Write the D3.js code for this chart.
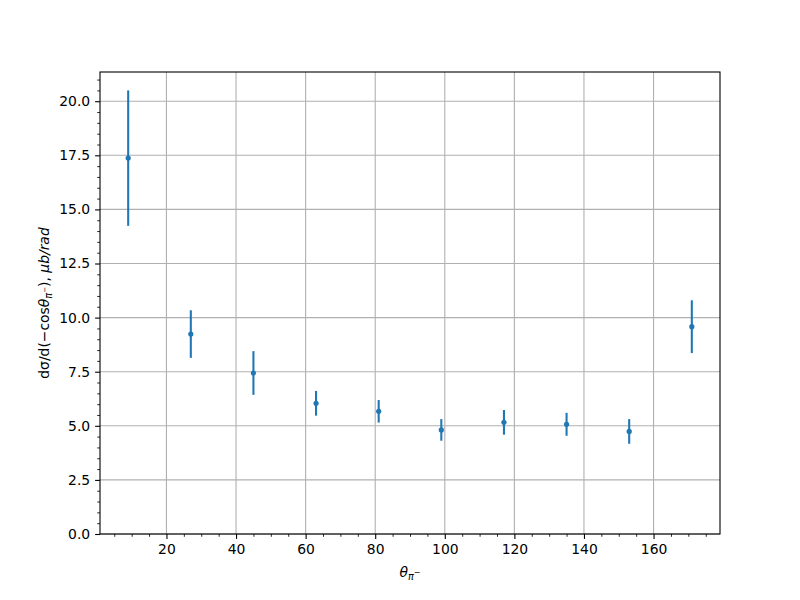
<!DOCTYPE html>
<html><head><meta charset="utf-8">
<script src="https://cdn.jsdelivr.net/npm/d3@7"></script>
<style>body{margin:0;background:#fff}svg text{font-family:"DejaVu Sans",sans-serif}</style>
</head><body><svg id="c" width="800" height="600"></svg>
<script>
const angles = [9, 27, 45, 63, 81, 99, 117, 135, 153, 171];
const values = [17.37, 9.24, 7.44, 6.04, 5.67, 4.81, 5.16, 5.07, 4.74, 9.58];
const errors = [3.13, 1.10, 1.01, 0.57, 0.52, 0.50, 0.57, 0.53, 0.57, 1.22];
const xTicks = [20, 40, 60, 80, 100, 120, 140, 160];
const yTicks = [0, 2.5, 5, 7.5, 10, 12.5, 15, 17.5, 20];

const L = 100, R = 720, T = 72, B = 534;
const svg = d3.select("#c");
const x = d3.scaleLinear().domain([0.9, 179.1]).range([L, R]);
const y = d3.scaleLinear().domain([0, 21.35]).range([B, T]);
const color = "#1f77b4";
const fs = "13.9px";

// grid
const g = svg.append("g");
g.selectAll(".gx").data(xTicks).enter().append("line")
  .attr("x1", d => x(d)).attr("x2", d => x(d)).attr("y1", T).attr("y2", B)
  .attr("stroke", "#b0b0b0").attr("stroke-width", 1.1);
g.selectAll(".gy").data(yTicks).enter().append("line")
  .attr("x1", L).attr("x2", R).attr("y1", d => y(d)).attr("y2", d => y(d))
  .attr("stroke", "#b0b0b0").attr("stroke-width", 1.1);

// error bars and points
svg.append("g").selectAll("line").data(angles).enter().append("line")
  .attr("x1", (d) => x(d)).attr("x2", (d) => x(d))
  .attr("y1", (d, i) => y(values[i] - errors[i])).attr("y2", (d, i) => y(values[i] + errors[i]))
  .attr("stroke", color).attr("stroke-width", 2.08);
svg.append("g").selectAll("circle").data(angles).enter().append("circle")
  .attr("cx", d => x(d)).attr("cy", (d, i) => y(values[i])).attr("r", 2.6)
  .attr("fill", color);

// axes
const xMinor = d3.range(5, 180, 5).filter(v => v % 20 !== 0 && v >= 0.9 && v <= 179.1);
const yMinor = d3.range(0, 21.35, 0.5).filter(v => Math.abs(v / 2.5 - Math.round(v / 2.5)) > 1e-6);

const xAxis = d3.axisBottom(x).tickValues(xTicks).tickFormat(d3.format("d")).tickSize(4.9).tickPadding(4.9);
const xAxisMinor = d3.axisBottom(x).tickValues(xMinor).tickFormat("").tickSize(2.8);
const yAxis = d3.axisLeft(y).tickValues(yTicks).tickFormat(d3.format(".1f")).tickSize(4.9).tickPadding(4.9);
const yAxisMinor = d3.axisLeft(y).tickValues(yMinor).tickFormat("").tickSize(2.8);

function style(sel, w) {
  sel.select(".domain").remove();
  sel.selectAll("line").attr("stroke", "#000").attr("stroke-width", w);
  sel.selectAll("text").attr("font-size", fs).attr("fill", "#000").attr("font-family", "DejaVu Sans");
}
svg.append("g").attr("transform", `translate(0,${B})`).call(xAxis).call(s => style(s, 1.1));
svg.append("g").attr("transform", `translate(0,${B})`).call(xAxisMinor).call(s => style(s, 0.83));
svg.append("g").attr("transform", `translate(${L},0)`).call(yAxis).call(s => style(s, 1.1));
svg.append("g").attr("transform", `translate(${L},0)`).call(yAxisMinor).call(s => style(s, 0.83));

// frame
svg.append("rect").attr("x", L).attr("y", T).attr("width", R - L).attr("height", B - T)
  .attr("fill", "none").attr("stroke", "#000").attr("stroke-width", 1.1);

// x label
const xl = svg.append("text").attr("x", (L + R) / 2).attr("y", 577).attr("text-anchor", "middle")
  .attr("font-size", fs);
xl.append("tspan").attr("font-style", "italic").text("θ");
xl.append("tspan").attr("font-style", "italic").attr("font-size", "9.7px").attr("dy", 3).text("π");
xl.append("tspan").attr("font-size", "8px").attr("dy", -5).text("−");

// y label
const yl = svg.append("text").attr("transform", `translate(49,${(T + B) / 2}) rotate(-90)`)
  .attr("text-anchor", "middle").attr("font-size", fs);
yl.append("tspan").text("dσ/d(−cos");
yl.append("tspan").attr("font-style", "italic").text("θ");
yl.append("tspan").attr("font-style", "italic").attr("font-size", "9.7px").attr("dy", 3).text("π");
yl.append("tspan").attr("font-size", "7px").attr("dy", -5).text("−");
yl.append("tspan").attr("dy", 2).text("), ");
yl.append("tspan").attr("font-style", "italic").text("μb/rad");
</script></body></html>
